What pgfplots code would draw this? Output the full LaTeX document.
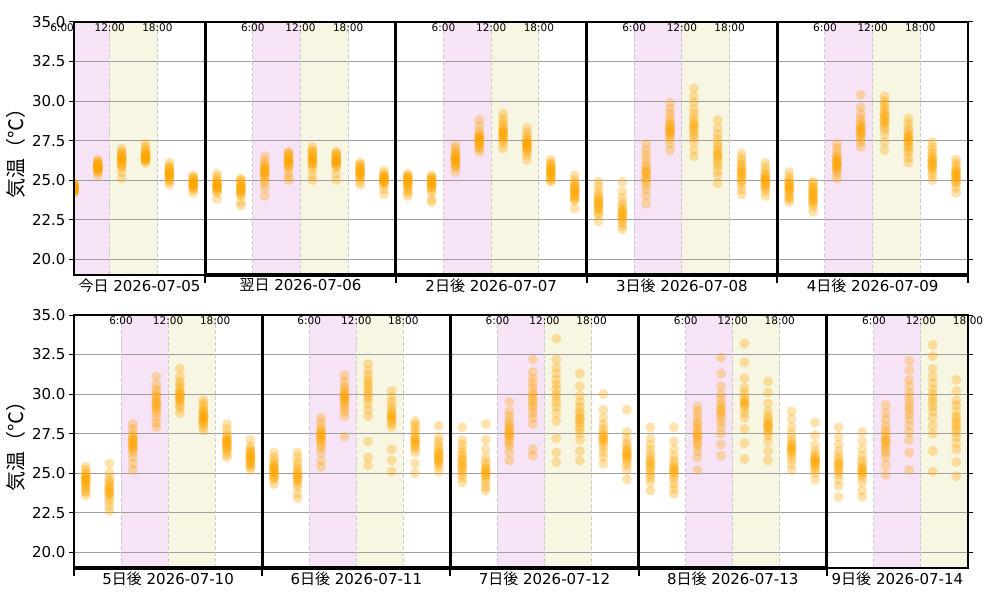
\documentclass[border=0pt]{standalone}
\usepackage{pgfplots}
\pgfplotsset{compat=1.18}
\usepackage{pgfplotstable}
\usepackage{fontspec}
\setmainfont{DejaVu Sans}
\newfontfamily\jp{Noto Sans CJK JP}
\definecolor{mplorange}{RGB}{255,165,0}
\definecolor{pinkc}{RGB}{246,227,246}
\definecolor{yellowc}{RGB}{247,246,227}
\definecolor{gridc}{RGB}{160,160,160}
\definecolor{dashc}{RGB}{205,205,205}

\pgfplotstableread{
t v1 v2 v3 v4 v5 v6 v7 v8 v9 v10 v11 v12 v13 v14 v15 v16
7.5 24.2 24.3 24.3 24.4 24.4 24.4 24.5 24.5 24.5 24.5 24.6 24.6 24.6 24.7 24.7 24.8
10.5 25.3 25.5 25.6 25.6 25.7 25.7 25.8 25.8 25.8 25.9 25.9 26.0 26.0 26.1 26.2 26.3
13.5 25.1 25.5 25.8 25.9 26.0 26.1 26.2 26.3 26.3 26.4 26.4 26.5 26.6 26.7 26.8 27.0
16.5 26.1 26.2 26.3 26.3 26.4 26.4 26.5 26.5 26.5 26.6 26.6 26.7 26.8 26.9 27.1 27.3
19.5 24.7 24.9 25.0 25.1 25.2 25.3 25.3 25.4 25.4 25.5 25.5 25.6 25.7 25.8 25.9 26.1
22.5 24.2 24.4 24.5 24.6 24.6 24.7 24.7 24.8 24.8 24.8 24.9 24.9 25.0 25.1 25.2 25.3
25.5 23.8 24.2 24.3 24.4 24.5 24.5 24.6 24.6 24.7 24.7 24.8 24.8 24.9 25.0 25.2 25.4
28.5 23.4 23.6 24.0 24.1 24.2 24.3 24.4 24.4 24.5 24.5 24.6 24.7 24.8 24.9 25.0 25.1
31.5 24.0 24.5 24.8 25.0 25.2 25.3 25.4 25.5 25.6 25.6 25.7 25.8 25.9 26.0 26.2 26.5
34.5 25.0 25.2 25.5 25.8 25.9 26.0 26.1 26.1 26.2 26.2 26.3 26.4 26.5 26.6 26.7 26.8
37.5 25.0 25.3 25.7 25.9 26.0 26.1 26.2 26.3 26.3 26.4 26.5 26.6 26.7 26.8 26.9 27.1
40.5 25.0 25.4 25.8 25.9 26.0 26.1 26.1 26.2 26.2 26.3 26.3 26.4 26.5 26.6 26.7 26.8
43.5 24.7 24.9 25.1 25.2 25.3 25.4 25.4 25.5 25.5 25.6 25.6 25.7 25.8 25.9 26.0 26.1
46.5 24.1 24.4 24.7 24.8 24.9 24.9 25.0 25.0 25.0 25.1 25.1 25.2 25.2 25.3 25.4 25.6
49.5 24.0 24.2 24.3 24.5 24.6 24.7 24.8 24.8 24.9 24.9 25.0 25.1 25.1 25.2 25.3 25.4
52.5 23.6 23.8 24.2 24.4 24.5 24.6 24.7 24.7 24.8 24.8 24.9 25.0 25.0 25.1 25.2 25.3
55.5 25.5 25.8 25.9 26.0 26.1 26.2 26.3 26.3 26.4 26.4 26.5 26.6 26.7 26.8 27.0 27.2
58.5 26.8 27.0 27.1 27.2 27.3 27.4 27.5 27.5 27.6 27.7 27.7 27.8 27.9 28.1 28.4 28.8
61.5 27.0 27.3 27.5 27.6 27.7 27.8 27.9 28.0 28.0 28.1 28.2 28.3 28.5 28.7 28.9 29.2
64.5 26.3 26.6 26.8 26.9 27.0 27.1 27.2 27.2 27.3 27.3 27.4 27.5 27.6 27.8 28.0 28.3
67.5 24.9 25.0 25.1 25.2 25.3 25.4 25.5 25.5 25.6 25.6 25.7 25.8 25.9 26.0 26.1 26.3
70.5 23.2 23.7 23.8 23.9 24.0 24.1 24.2 24.3 24.4 24.4 24.5 24.6 24.7 24.8 25.0 25.3
73.5 22.4 22.8 22.9 23.1 23.2 23.3 23.4 23.5 23.6 23.7 23.8 23.9 24.1 24.3 24.6 24.9
76.5 21.9 22.1 22.3 22.5 22.6 22.7 22.8 22.9 23.0 23.1 23.2 23.4 23.6 23.9 24.3 24.9
79.5 23.5 24.0 24.4 24.7 24.9 25.1 25.2 25.4 25.5 25.6 25.8 26.0 26.3 26.6 26.9 27.3
82.5 26.9 27.3 27.6 27.8 27.9 28.0 28.1 28.2 28.3 28.4 28.5 28.7 28.9 29.2 29.5 29.9
85.5 26.5 26.9 27.4 27.7 27.9 28.1 28.3 28.4 28.5 28.7 28.9 29.2 29.5 29.9 30.3 30.8
88.5 24.8 25.3 25.6 25.9 26.1 26.3 26.5 26.6 26.7 26.9 27.1 27.3 27.6 27.9 28.3 28.8
91.5 24.1 24.4 24.7 24.9 25.0 25.2 25.3 25.4 25.5 25.6 25.7 25.9 26.0 26.2 26.4 26.7
94.5 24.0 24.3 24.5 24.6 24.7 24.8 24.9 25.0 25.0 25.1 25.2 25.3 25.4 25.6 25.8 26.1
97.5 23.6 23.8 23.9 24.0 24.2 24.3 24.4 24.5 24.5 24.6 24.7 24.8 24.9 25.0 25.2 25.5
100.5 23.0 23.3 23.5 23.6 23.7 23.8 23.9 24.0 24.1 24.2 24.3 24.4 24.5 24.6 24.8 24.9
103.5 25.1 25.4 25.6 25.7 25.8 25.9 26.0 26.1 26.1 26.2 26.3 26.4 26.5 26.7 27.0 27.3
106.5 27.1 27.4 27.6 27.8 27.9 28.0 28.1 28.2 28.3 28.4 28.5 28.7 28.9 29.2 29.6 30.4
109.5 26.9 27.4 27.9 28.2 28.4 28.6 28.7 28.8 29.0 29.1 29.2 29.4 29.6 29.8 30.0 30.3
112.5 26.1 26.4 26.7 26.9 27.1 27.2 27.4 27.5 27.6 27.7 27.8 27.9 28.1 28.3 28.6 28.9
115.5 25.0 25.3 25.5 25.7 25.8 25.9 26.0 26.1 26.2 26.3 26.4 26.5 26.7 26.9 27.1 27.4
118.5 24.2 24.5 24.8 24.9 25.0 25.1 25.2 25.3 25.4 25.4 25.5 25.6 25.7 25.9 26.1 26.3
}\topdata

\pgfplotstableread{
t v1 v2 v3 v4 v5 v6 v7 v8 v9 v10 v11 v12 v13 v14 v15 v16
1.5 23.6 23.8 23.9 24.1 24.2 24.3 24.4 24.5 24.6 24.6 24.7 24.8 24.9 25.0 25.2 25.4
4.5 22.6 22.9 23.2 23.4 23.6 23.7 23.8 23.9 24.0 24.1 24.2 24.4 24.5 24.7 25.0 25.6
7.5 25.2 25.6 26.0 26.3 26.5 26.6 26.7 26.8 26.9 27.0 27.1 27.2 27.3 27.5 27.8 28.1
10.5 27.9 28.2 28.5 28.8 29.0 29.1 29.3 29.4 29.5 29.6 29.8 29.9 30.1 30.3 30.6 31.1
13.5 28.8 29.1 29.3 29.5 29.6 29.7 29.8 29.9 30.0 30.1 30.2 30.4 30.6 30.8 31.1 31.6
16.5 27.7 27.9 28.1 28.2 28.3 28.4 28.5 28.5 28.6 28.7 28.8 28.9 29.0 29.2 29.4 29.6
19.5 26.0 26.2 26.4 26.5 26.6 26.7 26.8 26.9 27.0 27.0 27.1 27.2 27.3 27.5 27.8 28.1
22.5 25.2 25.4 25.5 25.6 25.7 25.8 25.9 26.0 26.0 26.1 26.2 26.3 26.4 26.5 26.7 27.1
25.5 24.3 24.6 24.7 24.8 24.9 25.0 25.1 25.2 25.3 25.3 25.4 25.5 25.6 25.8 26.0 26.3
28.5 23.4 23.7 24.1 24.3 24.5 24.6 24.7 24.8 24.9 25.0 25.1 25.3 25.5 25.7 26.0 26.3
31.5 25.4 25.8 26.3 26.6 26.8 27.0 27.1 27.2 27.3 27.4 27.5 27.6 27.7 27.9 28.2 28.5
34.5 27.3 28.6 28.9 29.1 29.3 29.5 29.6 29.7 29.8 29.9 30.0 30.1 30.3 30.5 30.8 31.2
37.5 25.5 26.0 27.0 28.6 29.0 29.4 29.7 29.9 30.1 30.3 30.5 30.7 30.9 31.2 31.5 31.9
40.5 25.1 25.8 26.5 27.9 28.1 28.3 28.4 28.5 28.6 28.7 28.8 29.0 29.2 29.5 29.8 30.2
43.5 25.0 25.6 26.3 26.5 26.7 26.8 26.9 27.0 27.1 27.2 27.3 27.5 27.7 27.9 28.1 28.3
46.5 25.1 25.4 25.6 25.7 25.8 25.9 26.0 26.1 26.2 26.3 26.4 26.6 26.8 27.0 27.3 28.0
49.5 24.4 24.7 24.9 25.1 25.3 25.4 25.5 25.7 25.8 25.9 26.1 26.3 26.5 26.8 27.1 27.9
52.5 23.9 24.1 24.4 24.6 24.8 24.9 25.0 25.1 25.2 25.3 25.5 25.7 26.0 26.5 27.1 28.1
55.5 25.8 26.3 26.7 26.9 27.1 27.3 27.4 27.5 27.6 27.8 27.9 28.1 28.3 28.6 28.9 29.5
58.5 26.1 26.5 28.1 28.5 28.8 29.1 29.3 29.5 29.7 29.9 30.1 30.4 30.7 31.0 31.4 32.2
61.5 25.7 26.3 27.2 28.3 28.8 29.2 29.5 29.8 30.0 30.3 30.6 30.9 31.3 31.7 32.2 33.5
64.5 25.8 26.4 27.1 27.5 27.8 28.0 28.2 28.4 28.5 28.7 28.9 29.2 29.5 29.9 30.5 31.3
67.5 25.6 26.0 26.3 26.6 26.8 27.0 27.1 27.2 27.3 27.4 27.6 27.8 28.1 28.5 29.0 30.0
70.5 24.6 25.2 25.5 25.7 25.9 26.0 26.1 26.2 26.3 26.4 26.5 26.7 26.9 27.2 27.6 29.0
73.5 23.9 24.4 24.7 24.9 25.1 25.3 25.4 25.6 25.7 25.8 26.0 26.2 26.5 26.8 27.2 27.9
76.5 23.7 24.0 24.3 24.6 24.8 25.0 25.1 25.2 25.3 25.4 25.6 25.8 26.1 26.5 27.0 27.9
79.5 25.2 26.0 26.4 26.7 26.9 27.1 27.3 27.4 27.5 27.7 27.9 28.1 28.3 28.6 28.9 29.2
82.5 26.1 26.8 27.5 27.9 28.2 28.5 28.7 28.9 29.0 29.2 29.4 29.7 30.0 30.5 31.3 32.3
85.5 25.9 26.9 27.8 28.5 28.8 29.1 29.3 29.4 29.5 29.6 29.8 30.1 30.4 31.0 32.0 33.2
88.5 25.8 26.4 27.0 27.4 27.6 27.8 27.9 28.0 28.1 28.2 28.4 28.6 28.9 29.4 30.1 30.8
91.5 25.2 25.6 25.9 26.1 26.3 26.4 26.5 26.6 26.7 26.8 27.0 27.2 27.5 27.9 28.4 28.9
94.5 24.6 25.0 25.2 25.4 25.5 25.6 25.7 25.8 25.8 25.9 26.0 26.2 26.4 26.8 27.4 28.2
97.5 23.5 24.2 24.6 24.9 25.1 25.2 25.4 25.5 25.6 25.7 25.9 26.1 26.4 26.8 27.3 27.9
100.5 23.5 23.9 24.4 24.7 24.9 25.0 25.1 25.2 25.3 25.4 25.6 25.8 26.1 26.5 27.0 27.6
103.5 24.9 25.5 26.0 26.3 26.5 26.7 26.9 27.0 27.1 27.3 27.5 27.7 28.0 28.4 28.8 29.3
106.5 25.2 26.3 27.1 27.6 28.0 28.4 28.7 29.0 29.2 29.5 29.8 30.1 30.5 30.9 31.5 32.1
109.5 25.1 26.4 27.5 28.0 28.5 28.9 29.2 29.5 29.7 30.0 30.3 30.7 31.1 31.6 32.4 33.1
112.5 24.8 25.7 26.5 26.9 27.3 27.6 27.8 28.0 28.2 28.4 28.6 28.9 29.3 29.6 30.2 30.9
}\botdata

\pgfplotsset{
  common/.style={
    scale only axis, width=894pt, height=253pt,
    ymin=19, ymax=35, ytick={20,22.5,25,27.5,30,32.5,35},
    yticklabel style={/pgf/number format/fixed, /pgf/number format/fixed zerofill,
      /pgf/number format/precision=1, /pgf/number format/assume math mode=true},
    tick align=outside, major tick length=5pt,
    tick style={black, line width=1pt},
    xtick style={draw=none},
    axis line style={line width=1.2pt},
    axis on top,
    clip marker paths=true,
    ticklabel style={font=\fontsize{15}{18}\selectfont},
    xticklabel style={yshift=5pt},
    ylabel={\jp 気温（℃）},
    ylabel style={font=\fontsize{20}{24}\selectfont, at={(axis description cs:-0.0649,0.5)}, anchor=center},
  },
  ens/.style={only marks, mark=*, mark size=5pt, color=mplorange,
    mark options={draw=mplorange, draw opacity=0, fill=mplorange, fill opacity=0.32}},
}
\tikzset{tl/.style={anchor=north, inner sep=1pt, yshift=-1pt, font=\fontsize{10.5}{12}\selectfont}}
\newcommand\band[3]{%
  \fill[pinkc] (axis cs:#1,19) rectangle (axis cs:#2,35);
  \fill[yellowc] (axis cs:#2,19) rectangle (axis cs:#3,35);}
\newcommand\dline[1]{%
  \draw[dashc, line width=1pt, dash pattern=on 4pt off 2pt] (axis cs:#1,19) -- (axis cs:#1,35);}
\newcommand\sep[1]{%
  \draw[black, line width=3pt] (axis cs:#1,19) -- (axis cs:#1,35);}

\begin{document}
\begin{tikzpicture}
\path[use as bounding box] (0,0) rectangle (1000pt,600pt);

% ---------------- top row ----------------
\begin{axis}[common, at={(74pt,325pt)}, anchor=south west,
  xmin=7.5, xmax=120,
  xtick={15.75,36,60,84,108},
  xticklabels={{{\jp 今日} 2026-07-05},{{\jp 翌日} 2026-07-06},{2{\jp 日後} 2026-07-07},{3{\jp 日後} 2026-07-08},{4{\jp 日後} 2026-07-09}},
  after end axis/.code={
    \foreach \x/\l in {6/6:00,12/12:00,18/18:00,30/6:00,36/12:00,42/18:00,54/6:00,60/12:00,66/18:00,78/6:00,84/12:00,90/18:00,102/6:00,108/12:00,114/18:00}{
      \node[tl] at (axis cs:\x,35) {\l};}
    \draw[line width=3.5pt] (axis cs:24,19) -- (axis cs:120,19);
    \foreach \x in {24,48,72,96,120}{\draw[line width=2pt] (axis cs:\x,19) -- ++(0,-8pt);}
  }]
\band{7.5}{12}{18}\band{30}{36}{42}\band{54}{60}{66}\band{78}{84}{90}\band{102}{108}{114}
\pgfplotsinvokeforeach{20,22.5,25,27.5,30,32.5}{\draw[gridc, line width=1pt] (axis cs:7.5,#1) -- (axis cs:120,#1);}
\dline{12}\dline{18}\dline{30}\dline{36}\dline{42}\dline{54}\dline{60}\dline{66}\dline{78}\dline{84}\dline{90}\dline{102}\dline{108}\dline{114}
\pgfplotsinvokeforeach{1,...,16}{\addplot[ens] table[x=t, y=v#1] {\topdata};}
\sep{24}\sep{48}\sep{72}\sep{96}
\end{axis}

% ---------------- bottom row ----------------
\begin{axis}[common, at={(74pt,32pt)}, anchor=south west,
  xmin=0, xmax=114,
  xtick={12,36,60,84,105},
  xticklabels={{5{\jp 日後} 2026-07-10},{6{\jp 日後} 2026-07-11},{7{\jp 日後} 2026-07-12},{8{\jp 日後} 2026-07-13},{9{\jp 日後} 2026-07-14}},
  after end axis/.code={
    \foreach \x/\l in {6/6:00,12/12:00,18/18:00,30/6:00,36/12:00,42/18:00,54/6:00,60/12:00,66/18:00,78/6:00,84/12:00,90/18:00,102/6:00,108/12:00,114/18:00}{
      \node[tl] at (axis cs:\x,35) {\l};}
    \draw[line width=3.5pt] (axis cs:0,19) -- (axis cs:96,19);
    \foreach \x in {0,24,48,72,96}{\draw[line width=2pt] (axis cs:\x,19) -- ++(0,-8pt);}
  }]
\band{6}{12}{18}\band{30}{36}{42}\band{54}{60}{66}\band{78}{84}{90}\band{102}{108}{114}
\pgfplotsinvokeforeach{20,22.5,25,27.5,30,32.5}{\draw[gridc, line width=1pt] (axis cs:0,#1) -- (axis cs:114,#1);}
\dline{6}\dline{12}\dline{18}\dline{30}\dline{36}\dline{42}\dline{54}\dline{60}\dline{66}\dline{78}\dline{84}\dline{90}\dline{102}\dline{108}
\pgfplotsinvokeforeach{1,...,16}{\addplot[ens] table[x=t, y=v#1] {\botdata};}
\sep{24}\sep{48}\sep{72}\sep{96}
\end{axis}
\end{tikzpicture}
\end{document}
